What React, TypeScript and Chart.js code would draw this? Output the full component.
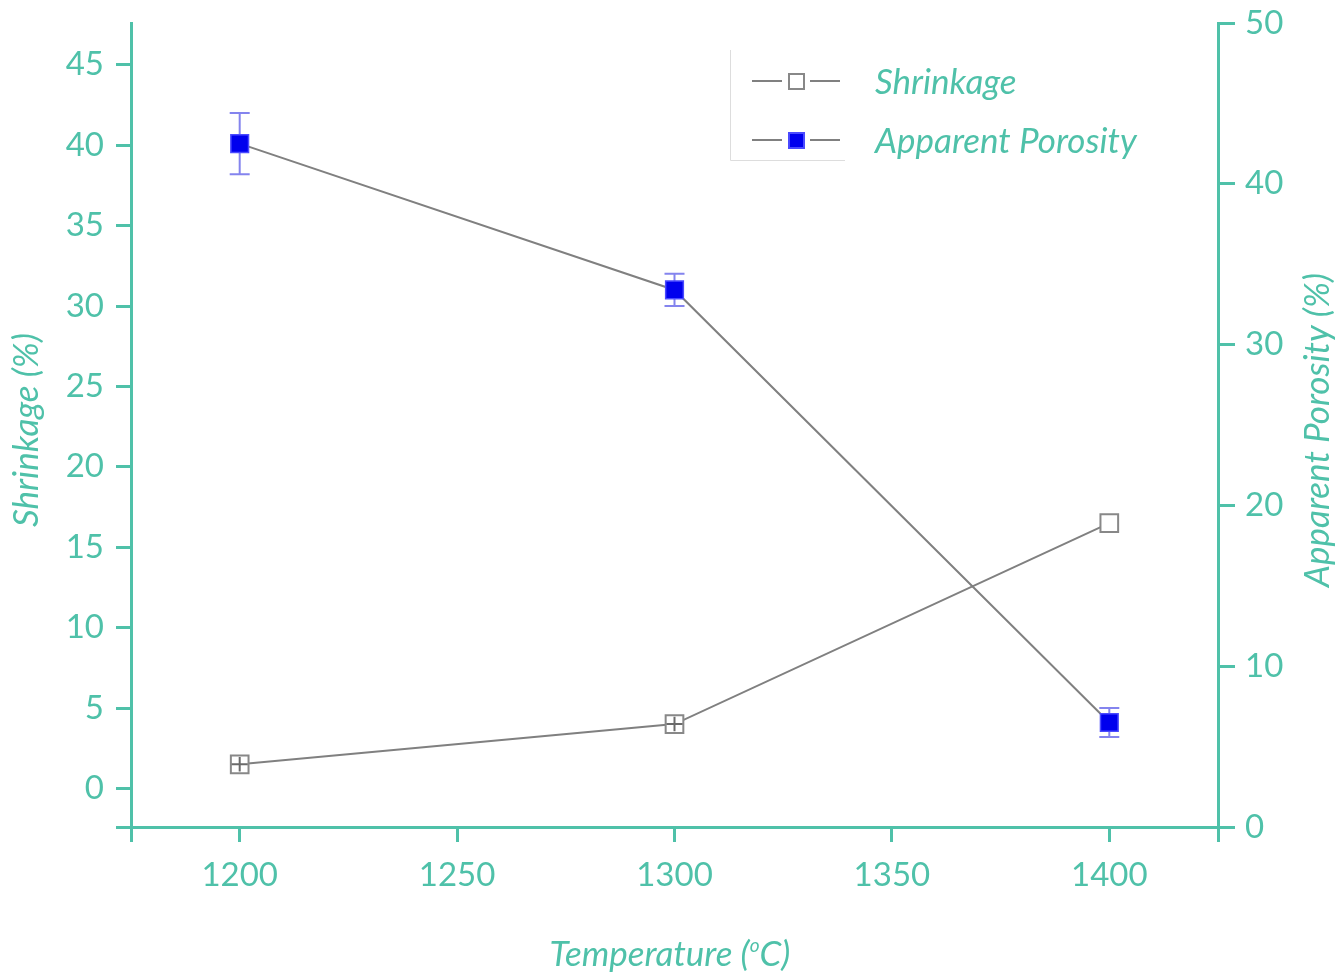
import React, { useEffect, useRef } from "react";
import { Chart, registerables } from "chart.js";

Chart.register(...registerables);

const temperatures = [1200, 1300, 1400];
const shrinkage = [1.5, 4.0, 16.5];
const shrinkageErr = [0.45, 0.45, 0];
const porosity = [42.5, 33.4, 6.5];
const porosityErr = [1.9, 1.0, 0.9];
const xTicks = [1175, 1200, 1250, 1300, 1350, 1400, 1425];
const leftTicks = [-2.4, 0, 5, 10, 15, 20, 25, 30, 35, 40, 45];
const rightTicks = [0, 10, 20, 30, 40, 50];

const TEAL = "#4fc1a9";
const FONT = "Lato";
const TITLE_FONT = `italic 35px ${FONT}`;

const errorBarsPlugin = {
  id: "errorBars",
  beforeDatasetsDraw(chart: any) {
    drawErr(chart, 1, porosityErr, "rgba(110,110,235,0.85)", 10, false);
  },
  afterDatasetsDraw(chart: any) {
    drawErr(chart, 0, shrinkageErr, "rgba(90,90,90,0.9)", 8, true);
  },
};

function drawErr(chart: any, idx: number, errs: number[], color: string, cap: number, plus: boolean) {
  const ctx = chart.ctx;
  const ds = chart.data.datasets[idx];
  const yScale = chart.scales[ds.yAxisID];
  const xScale = chart.scales.x;
  ctx.save();
  ctx.strokeStyle = color;
  ctx.lineWidth = 2;
  ds.data.forEach((p: any, i: number) => {
    const e = errs[i];
    if (!e) return;
    const x = xScale.getPixelForValue(p.x);
    const y0 = yScale.getPixelForValue(p.y);
    const y1 = yScale.getPixelForValue(p.y + e);
    const y2 = yScale.getPixelForValue(p.y - e);
    ctx.beginPath();
    ctx.moveTo(x, y1);
    ctx.lineTo(x, y2);
    if (plus) {
      ctx.moveTo(x - cap, y0);
      ctx.lineTo(x + cap, y0);
    } else {
      ctx.moveTo(x - cap, y1);
      ctx.lineTo(x + cap, y1);
      ctx.moveTo(x - cap, y2);
      ctx.lineTo(x + cap, y2);
    }
    ctx.stroke();
  });
  ctx.restore();
}

const decorPlugin = {
  id: "decor",
  afterDraw(chart: any) {
    const ctx = chart.ctx;
    ctx.save();
    // Legend box borders
    ctx.strokeStyle = "#dddddd";
    ctx.lineWidth = 1;
    ctx.beginPath();
    ctx.moveTo(730.5, 50);
    ctx.lineTo(730.5, 160.5);
    ctx.lineTo(845, 160.5);
    ctx.stroke();
    // Legend entries
    const entries = [
      { y: 81, label: "Shrinkage", fill: "#ffffff", stroke: "#888888" },
      { y: 140, label: "Apparent Porosity", fill: "#0000ee", stroke: "#4a4aff" },
    ];
    entries.forEach((en) => {
      ctx.strokeStyle = "#808080";
      ctx.lineWidth = 2;
      ctx.beginPath();
      ctx.moveTo(752, en.y);
      ctx.lineTo(782, en.y);
      ctx.moveTo(810, en.y);
      ctx.lineTo(840, en.y);
      ctx.stroke();
      ctx.fillStyle = en.fill;
      ctx.strokeStyle = en.stroke;
      ctx.lineWidth = 2;
      ctx.fillRect(789, en.y - 7, 15, 15);
      ctx.strokeRect(789, en.y - 7, 15, 15);
      ctx.fillStyle = TEAL;
      ctx.font = TITLE_FONT;
      ctx.textAlign = "left";
      ctx.textBaseline = "middle";
      ctx.fillText(en.label, 875, en.y + 2);
    });
    // Axis titles
    ctx.fillStyle = TEAL;
    ctx.font = TITLE_FONT;
    ctx.textAlign = "center";
    ctx.textBaseline = "middle";
    const midY = 430;
    ctx.save();
    ctx.translate(27, midY);
    ctx.rotate(-Math.PI / 2);
    ctx.fillText("Shrinkage (%)", 0, 0);
    ctx.restore();
    ctx.save();
    ctx.translate(1318, midY);
    ctx.rotate(-Math.PI / 2);
    ctx.fillText("Apparent Porosity (%)", 0, 0);
    ctx.restore();
    // x title with superscript o
    const p1 = "Temperature (";
    const p2 = "o";
    const p3 = "C)";
    ctx.font = TITLE_FONT;
    const w1 = ctx.measureText(p1).width;
    const w3 = ctx.measureText(p3).width;
    ctx.font = `italic 19px ${FONT}`;
    const w2 = ctx.measureText(p2).width;
    const total = w1 + w2 + w3;
    let x = 670 - total / 2;
    const y = 955;
    ctx.textAlign = "left";
    ctx.font = TITLE_FONT;
    ctx.fillText(p1, x, y);
    x += w1;
    ctx.font = `italic 19px ${FONT}`;
    ctx.fillText(p2, x, y - 9);
    x += w2;
    ctx.font = TITLE_FONT;
    ctx.fillText(p3, x, y);
    ctx.restore();
  },
};

export default function App() {
  const ref = useRef<HTMLCanvasElement | null>(null);
  useEffect(() => {
    if (!ref.current) return;
    const tickFont = { family: FONT, size: 33 };
    const chart = new Chart(ref.current, {
      type: "line",
      data: {
        datasets: [
          {
            label: "Shrinkage",
            data: temperatures.map((t, i) => ({ x: t, y: shrinkage[i] })),
            yAxisID: "y",
            borderColor: "#808080",
            borderWidth: 2,
            pointStyle: "rect",
            pointRadius: 12.5,
            pointBackgroundColor: "#ffffff",
            pointBorderColor: "#888888",
            pointBorderWidth: 2,
          },
          {
            label: "Apparent Porosity",
            data: temperatures.map((t, i) => ({ x: t, y: porosity[i] })),
            yAxisID: "y1",
            borderColor: "#808080",
            borderWidth: 2,
            pointStyle: "rect",
            pointRadius: 12.5,
            pointBackgroundColor: "#0000ee",
            pointBorderColor: "#4a4aff",
            pointBorderWidth: 1.5,
          },
        ],
      },
      options: {
        animation: false,
        responsive: false,
        maintainAspectRatio: false,
        layout: { padding: { top: 23, left: 0, right: 0, bottom: 0 } },
        plugins: { legend: { display: false }, tooltip: { enabled: false } },
        scales: {
          x: {
            type: "linear",
            min: 1175,
            max: 1425,
            afterBuildTicks: (s: any) => {
              s.ticks = xTicks.map((v) => ({ value: v }));
            },
            afterFit: (s: any) => {
              s.height = 146;
              s.paddingLeft = 0;
              s.paddingRight = 0;
            },
            ticks: {
              autoSkip: false,
              color: TEAL,
              font: tickFont,
              padding: 14,
              maxRotation: 0,
              callback: (v: any) => (v === 1175 || v === 1425 ? "" : String(v)),
            },
            grid: { drawOnChartArea: false, drawTicks: true, tickLength: 15, color: TEAL, lineWidth: 3 },
            border: { display: true, color: TEAL, width: 3 },
          },
          y: {
            type: "linear",
            position: "left",
            min: -2.4,
            max: 47.6,
            afterBuildTicks: (s: any) => {
              s.ticks = leftTicks.map((v) => ({ value: v }));
            },
            afterFit: (s: any) => {
              s.width = 131;
              s.paddingTop = 0;
              s.paddingBottom = 0;
            },
            ticks: {
              autoSkip: false,
              color: TEAL,
              font: tickFont,
              padding: 12,
              callback: (v: any) => (v < 0 ? "" : String(v)),
            },
            grid: { drawOnChartArea: false, drawTicks: true, tickLength: 15, color: TEAL, lineWidth: 3 },
            border: { display: true, color: TEAL, width: 3 },
          },
          y1: {
            type: "linear",
            position: "right",
            min: 0,
            max: 50,
            afterBuildTicks: (s: any) => {
              s.ticks = rightTicks.map((v) => ({ value: v }));
            },
            afterFit: (s: any) => {
              s.width = 125;
              s.paddingTop = 0;
              s.paddingBottom = 0;
            },
            ticks: {
              autoSkip: false,
              color: TEAL,
              font: tickFont,
              padding: 10,
              callback: (v: any) => String(v),
            },
            grid: { drawOnChartArea: false, drawTicks: true, tickLength: 17, color: TEAL, lineWidth: 3 },
            border: { display: true, color: TEAL, width: 3 },
          },
        },
      },
      plugins: [errorBarsPlugin, decorPlugin],
    } as any);
    return () => chart.destroy();
  }, []);
  return (
    <div style={{ position: "fixed", left: 0, top: 0, width: 1343, height: 973, background: "#fff" }}>
      <canvas ref={ref} width={1343} height={973} style={{ width: 1343, height: 973, display: "block" }} />
    </div>
  );
}
